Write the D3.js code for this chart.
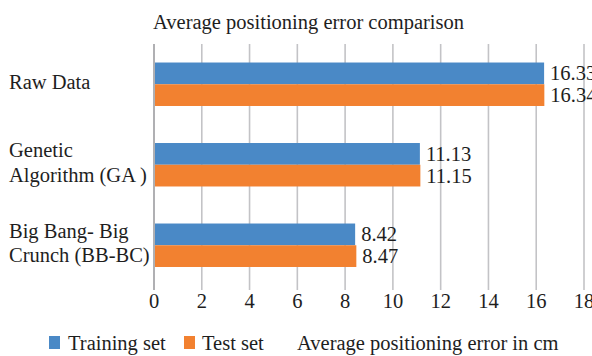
<!DOCTYPE html>
<html>
<head>
<meta charset="utf-8">
<script src="https://cdn.jsdelivr.net/npm/d3@7"></script>
<style>
  html, body { margin: 0; padding: 0; background: #fff; }
  svg { display: block; }
  text { font-family: "Liberation Serif", "Times New Roman", serif; fill: #1e1e1e; }
</style>
</head>
<body>
<svg id="chart" width="592" height="356"></svg>
<script>
// Methods compared (each label split into its display lines)
const categories = [
  ["Raw Data"],
  ["Genetic", "Algorithm (GA )"],
  ["Big Bang- Big", "Crunch (BB-BC)"]
];
const seriesNames = ["Training set", "Test set"];
const trainingValues = [16.33, 11.13, 8.42];
const testValues = [16.34, 11.15, 8.47];
const tickValues = [0, 2, 4, 6, 8, 10, 12, 14, 16, 18];
const chartTitle = "Average positioning error comparison";
const axisTitle = "Average positioning error in cm";

const colors = ["#4a89c6", "#f28130"];
const fontSize = 20.5;
const svg = d3.select("#chart");

const x = d3.scaleLinear().domain([0, 18]).range([154, 584]);
const y = d3.scaleBand().domain(d3.range(categories.length)).range([44, 285.5]);
const barH = y.bandwidth() * 0.27;

// Title
svg.append("text")
  .attr("x", 153).attr("y", 29)
  .attr("font-size", fontSize)
  .text(chartTitle);

// Vertical gridlines
svg.append("g").selectAll("line")
  .data(tickValues.slice(1))
  .join("line")
  .attr("x1", d => x(d)).attr("x2", d => x(d))
  .attr("y1", 44).attr("y2", 290)
  .attr("stroke", "#c3c3c6").attr("stroke-width", 1.6);

// Bars
const series = [trainingValues, testValues];
series.forEach((vals, si) => {
  svg.append("g").selectAll("rect")
    .data(vals)
    .join("rect")
    .attr("x", x(0))
    .attr("y", (d, i) => y(i) + y.bandwidth() / 2 - barH + si * barH)
    .attr("width", d => x(d) - x(0))
    .attr("height", barH)
    .attr("fill", colors[si]);

  // Value labels
  svg.append("g").selectAll("text")
    .data(vals)
    .join("text")
    .attr("x", d => x(d) + 6)
    .attr("y", (d, i) => y(i) + y.bandwidth() / 2 - barH + si * barH + barH / 2 + 7)
    .attr("font-size", fontSize)
    .text(d => d.toFixed(2));
});

// Category axis line at zero
svg.append("line")
  .attr("x1", x(0)).attr("x2", x(0))
  .attr("y1", 44).attr("y2", 290)
  .attr("stroke", "#b0b0b3").attr("stroke-width", 2);

// X axis tick labels
svg.append("g").selectAll("text")
  .data(tickValues)
  .join("text")
  .attr("x", d => x(d))
  .attr("y", 308)
  .attr("text-anchor", "middle")
  .attr("font-size", fontSize)
  .text(d => d);

// Category labels
categories.forEach((lines, i) => {
  const cy = y(i) + y.bandwidth() / 2;
  const n = lines.length;
  const t = svg.append("text").attr("font-size", fontSize);
  lines.forEach((ln, k) => {
    t.append("tspan")
      .attr("x", 9)
      .attr("y", cy + 4.5 + (k - (n - 1) / 2) * 24.5)
      .text(ln);
  });
});

// Legend
const legend = svg.append("g");
const legendItems = [
  { name: seriesNames[0], color: colors[0], sx: 49, tx: 68 },
  { name: seriesNames[1], color: colors[1], sx: 184, tx: 202 }
];
legend.selectAll("rect")
  .data(legendItems)
  .join("rect")
  .attr("x", d => d.sx).attr("y", 336)
  .attr("width", 11).attr("height", 13)
  .attr("fill", d => d.color);
legend.selectAll("text")
  .data(legendItems)
  .join("text")
  .attr("x", d => d.tx).attr("y", 350)
  .attr("font-size", fontSize)
  .text(d => d.name);
legend.append("text")
  .attr("x", 297).attr("y", 350)
  .attr("font-size", fontSize)
  .text(axisTitle);
</script>
</body>
</html>
